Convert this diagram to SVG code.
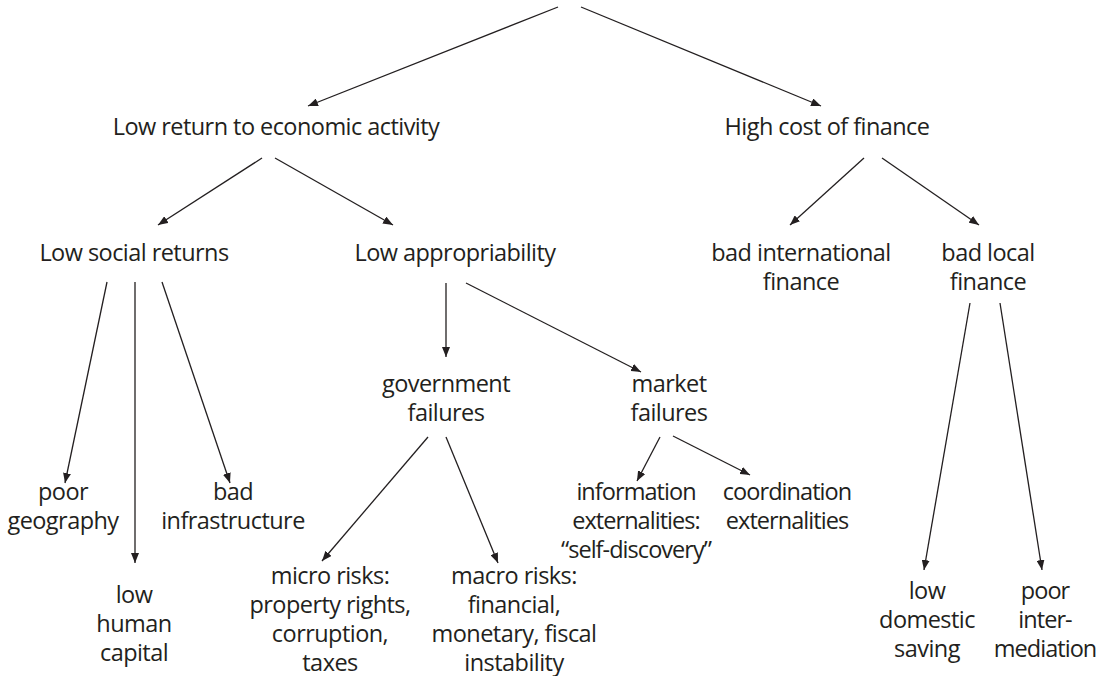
<svg xmlns="http://www.w3.org/2000/svg" width="1097" height="676" viewBox="0 0 1097 676">
<style>
text{font-family:"Open Sans","Liberation Sans",sans-serif;font-size:23.5px;letter-spacing:-0.55px;fill:#231f20;text-anchor:middle}
.tight{letter-spacing:-0.95px}
.c line{stroke:#231f20;stroke-width:1.3;fill:none;marker-end:url(#ah)}
</style>
<defs>
<marker id="ah" viewBox="0 0 10 8" refX="10" refY="4" markerWidth="10" markerHeight="8" markerUnits="userSpaceOnUse" orient="auto">
<path d="M0,0 L10,4 L0,8 Z" fill="#231f20"/>
</marker>
</defs>
<rect width="1097" height="676" fill="#ffffff"/>
<g class="c" id="connectors">
<line x1="558" y1="7" x2="308" y2="106"/>
<line x1="581" y1="7" x2="821" y2="106"/>
<line x1="262" y1="158" x2="158" y2="225"/>
<line x1="275" y1="158" x2="393" y2="225"/>
<line x1="864" y1="158" x2="790" y2="225"/>
<line x1="882" y1="158" x2="979" y2="225"/>
<line x1="107" y1="282" x2="65" y2="483"/>
<line x1="135" y1="282" x2="135" y2="563"/>
<line x1="162" y1="282" x2="230" y2="483"/>
<line x1="446" y1="283" x2="446" y2="357"/>
<line x1="466" y1="283" x2="641" y2="372"/>
<line x1="428" y1="437" x2="322" y2="561"/>
<line x1="446" y1="437" x2="498" y2="563"/>
<line x1="660" y1="437" x2="637" y2="481"/>
<line x1="673" y1="436" x2="750" y2="475"/>
<line x1="970" y1="303" x2="924" y2="570"/>
<line x1="1000" y1="303" x2="1042" y2="570"/>
</g>
<g id="n-low-return"><text x="276" y="135">Low return to economic activity</text></g>
<g id="n-high-cost"><text x="827" y="135">High cost of finance</text></g>
<g id="n-low-social"><text x="134" y="261">Low social returns</text></g>
<g id="n-low-approp"><text x="455" y="261">Low appropriability</text></g>
<g id="n-bad-intl"><text x="801" y="261">bad international</text><text x="801" y="290">finance</text></g>
<g id="n-bad-local"><text x="988" y="261">bad local</text><text x="988" y="290">finance</text></g>
<g id="n-gov"><text x="446" y="392">government</text><text x="446" y="421">failures</text></g>
<g id="n-market"><text x="669" y="392">market</text><text x="669" y="421">failures</text></g>
<g id="n-geo"><text x="63" y="500">poor</text><text x="63" y="529">geography</text></g>
<g id="n-infra"><text x="233" y="500">bad</text><text x="233" y="529">infrastructure</text></g>
<g id="n-human"><text x="134" y="603">low</text><text x="134" y="632">human</text><text x="134" y="661">capital</text></g>
<g id="n-micro"><text x="330" y="584">micro risks:</text><text x="330" y="613">property rights,</text><text x="330" y="642">corruption,</text><text x="330" y="671">taxes</text></g>
<g id="n-macro"><text x="514" y="584">macro risks:</text><text x="514" y="613">financial,</text><text x="514" y="642">monetary, fiscal</text><text x="514" y="671">instability</text></g>
<g id="n-info"><text class="tight" x="636" y="500">information</text><text class="tight" x="636" y="529">externalities:</text><text class="tight" x="636" y="558">“self-discovery”</text></g>
<g id="n-coord"><text class="tight" x="787" y="500">coordination</text><text class="tight" x="787" y="529">externalities</text></g>
<g id="n-domestic"><text x="927" y="599">low</text><text x="927" y="628">domestic</text><text x="927" y="657">saving</text></g>
<g id="n-intermed"><text class="tight" x="1045" y="599">poor</text><text class="tight" x="1045" y="628">inter-</text><text class="tight" x="1045" y="657">mediation</text></g>
</svg>
